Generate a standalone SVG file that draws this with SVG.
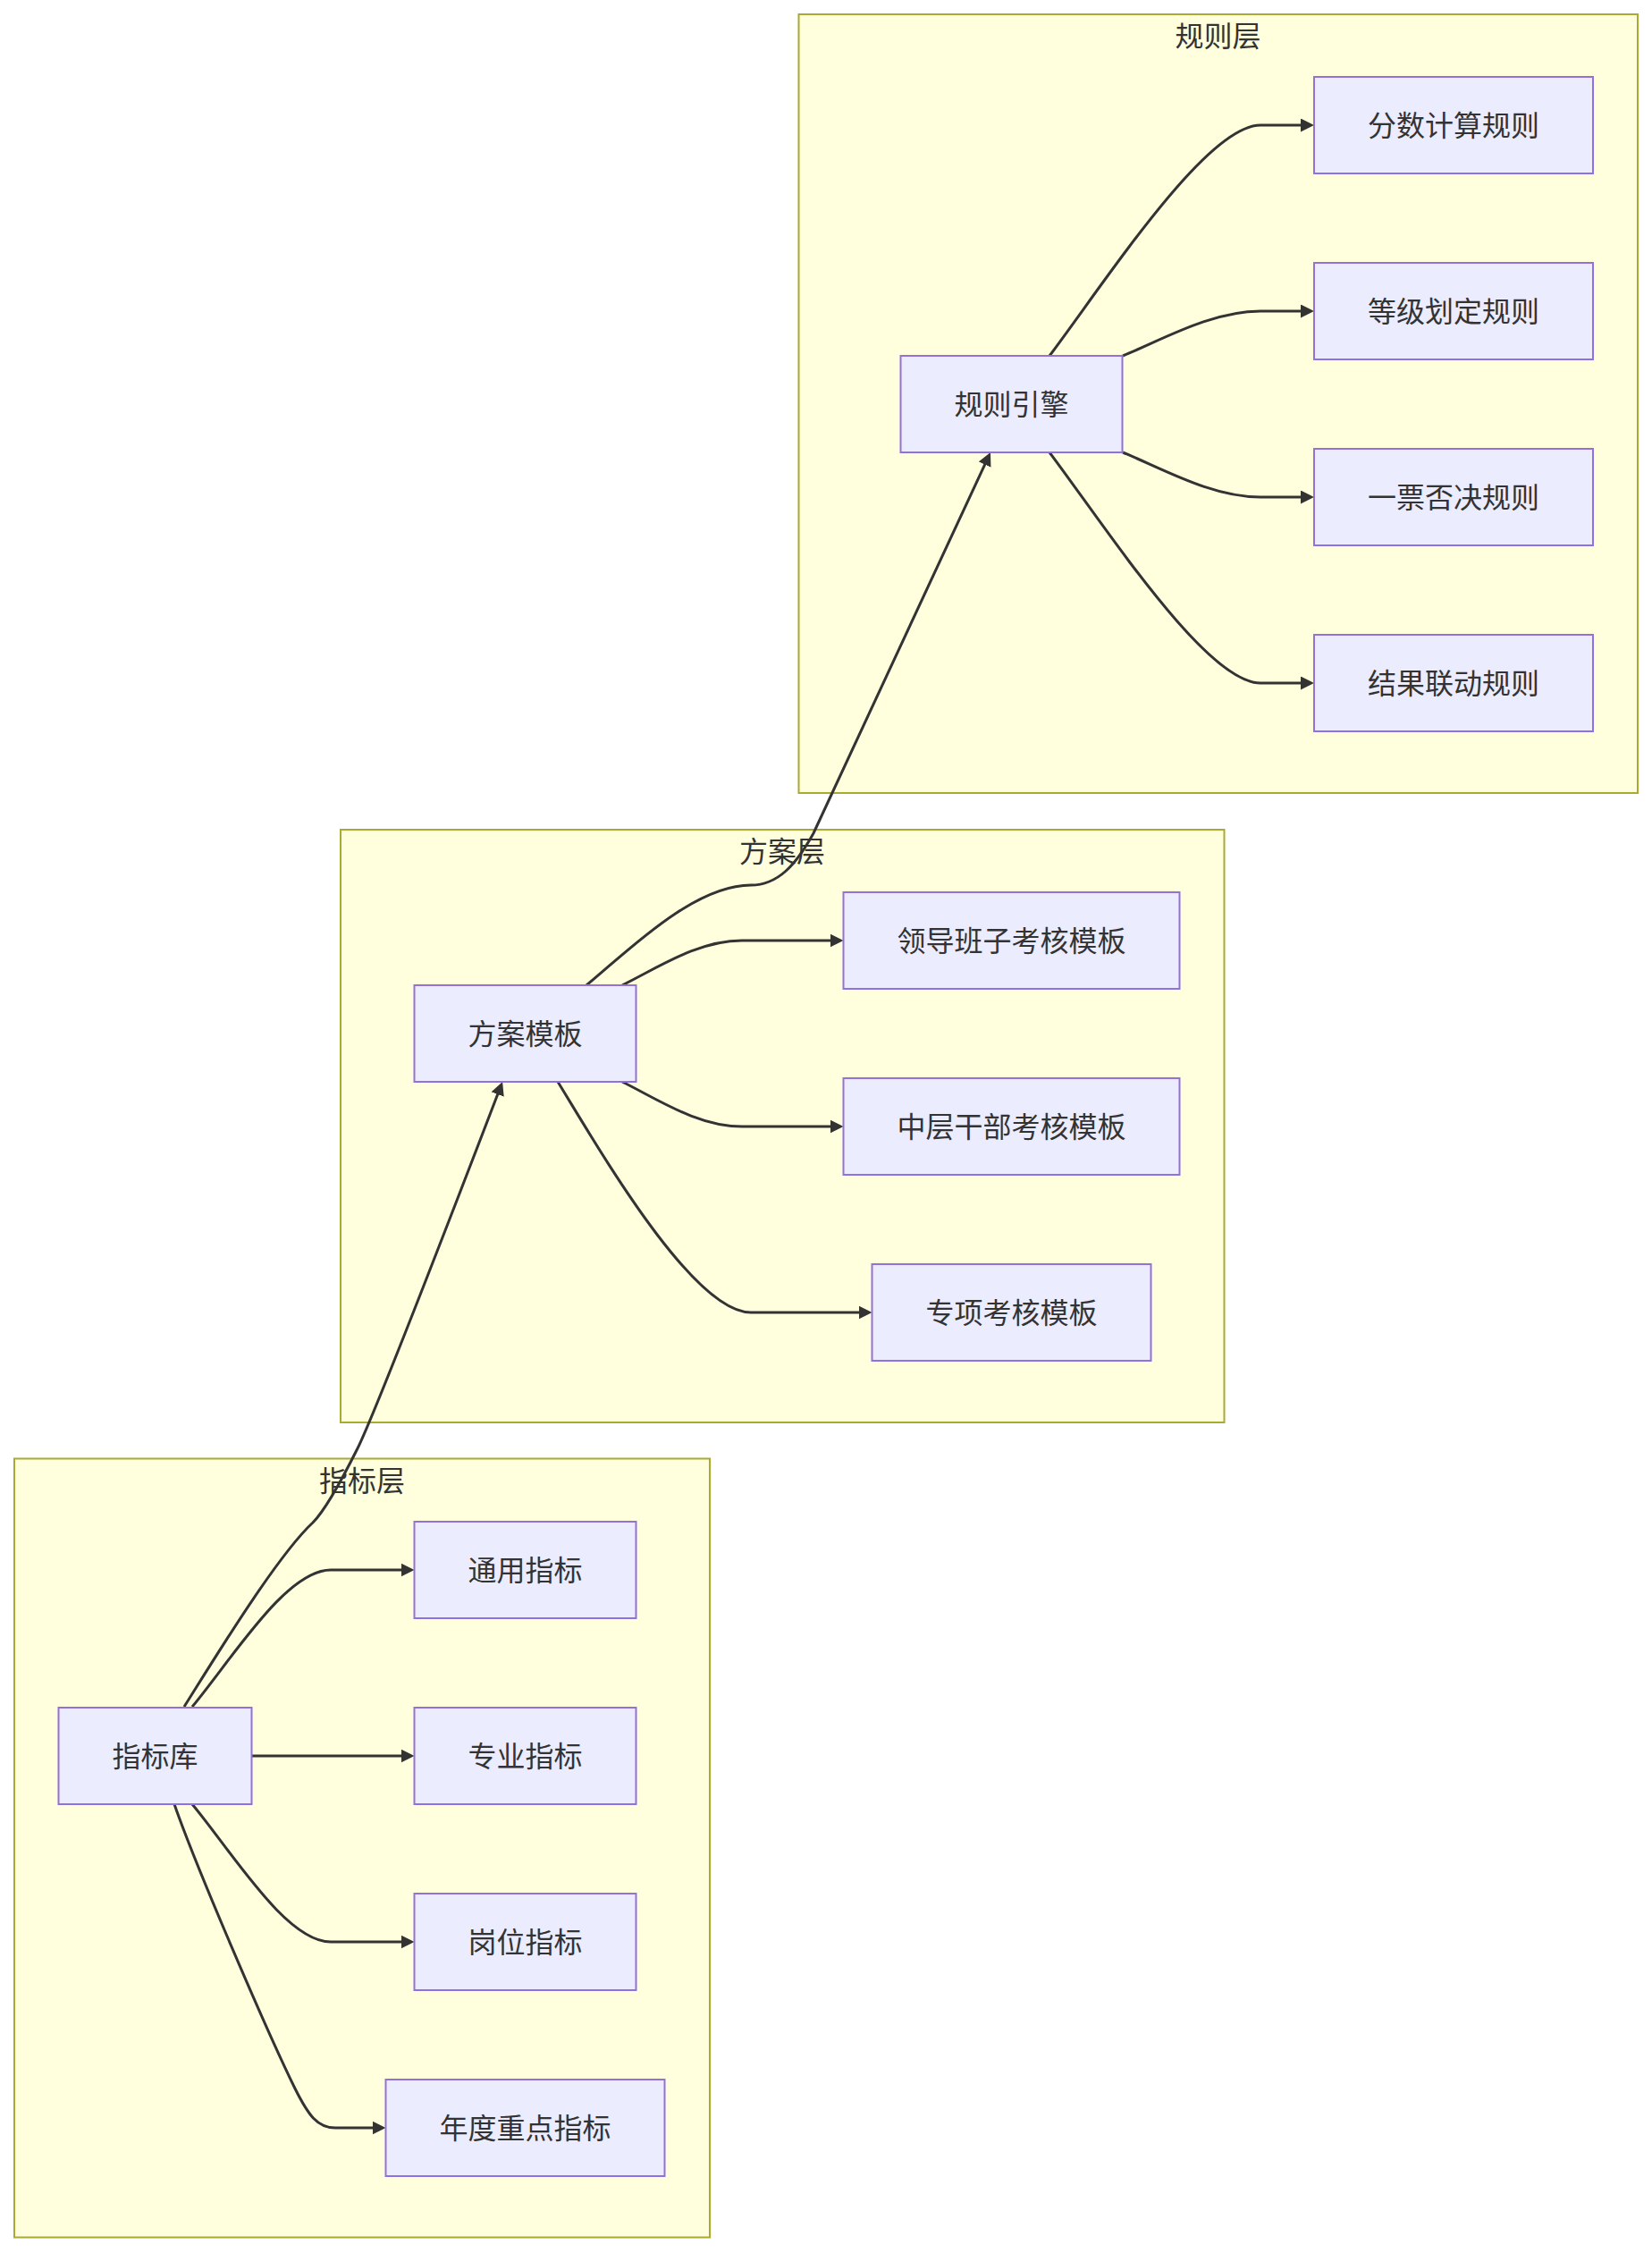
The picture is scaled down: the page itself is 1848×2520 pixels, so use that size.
<svg xmlns="http://www.w3.org/2000/svg" width="1848" height="2520" viewBox="0 0 1848 2520">
<style>
.cluster rect{fill:#ffffde;stroke:#aaaa33;stroke-width:2}
.node rect{fill:#ECECFF;stroke:#9370DB;stroke-width:2}
text{font-family:"Noto Sans CJK SC","Noto Sans",sans-serif;font-size:32px;fill:#333333;text-anchor:middle;dominant-baseline:central}
.edges path{fill:none;stroke:#333333;stroke-width:3}
</style>
<defs>
<marker id="arrow" viewBox="0 0 10 10" refX="5" refY="5" markerUnits="userSpaceOnUse" markerWidth="15" markerHeight="15" orient="auto">
<path d="M0,0 L10,5 L0,10 z" fill="#333333"/>
</marker>
</defs>
<rect width="1848" height="2520" fill="#ffffff"/>
<g id="clusters">
<g id="cluster-rule" class="cluster"><rect x="893.5" y="16" width="938.5" height="871"/><text x="1362.5" y="38">规则层</text></g>
<g id="cluster-plan" class="cluster"><rect x="381" y="928" width="988.5" height="663"/><text x="875" y="950">方案层</text></g>
<g id="cluster-index" class="cluster"><rect x="16" y="1631.5" width="778" height="871"/><text x="405" y="1654">指标层</text></g>
</g>
<g id="connectors" class="edges">
<path d="M1174,398 C1240,310 1350,140 1410,140 L1462.5,140" marker-end="url(#arrow)"/>
<path d="M1256,398 C1300,380 1355,348 1410,348 L1462.5,348" marker-end="url(#arrow)"/>
<path d="M1256,506 C1300,524 1355,556 1410,556 L1462.5,556" marker-end="url(#arrow)"/>
<path d="M1174,506 C1240,594 1350,764 1410,764 L1462.5,764" marker-end="url(#arrow)"/>
<path d="M656,1102 C700,1066 775,990 840,990 C870,990 890,968 910,932 L1104.8,512.8" marker-end="url(#arrow)"/>
<path d="M696,1102 C735,1083 780,1052 830,1052 L936,1052" marker-end="url(#arrow)"/>
<path d="M696,1210 C735,1229 780,1260 830,1260 L936,1260" marker-end="url(#arrow)"/>
<path d="M624,1210 C670,1285 775,1468 840,1468 L968,1468" marker-end="url(#arrow)"/>
<path d="M206,1909 C240,1855 310,1740 350,1703 C365,1688 385,1650 400,1620 C420,1580 495,1385 559.4,1217" marker-end="url(#arrow)"/>
<path d="M215,1909 C260,1855 320,1756 370,1756 L456,1756" marker-end="url(#arrow)"/>
<path d="M281.5,1964 L456,1964" marker-end="url(#arrow)"/>
<path d="M215,2018 C260,2072 320,2172 370,2172 L456,2172" marker-end="url(#arrow)"/>
<path d="M195,2018 C220,2090 300,2275 330,2336 C345,2366 355,2380 375,2380 L424,2380" marker-end="url(#arrow)"/>
</g>
<g id="nodes">
<g id="node-engine" class="node"><rect x="1007.5" y="398" width="248" height="108"/><text x="1131.5" y="450">规则引擎</text></g>
<g id="node-score" class="node"><rect x="1470" y="86" width="312" height="108"/><text x="1626" y="138">分数计算规则</text></g>
<g id="node-grade" class="node"><rect x="1470" y="294" width="312" height="108"/><text x="1626" y="346">等级划定规则</text></g>
<g id="node-veto" class="node"><rect x="1470" y="502" width="312" height="108"/><text x="1626" y="554">一票否决规则</text></g>
<g id="node-link" class="node"><rect x="1470" y="710" width="312" height="108"/><text x="1626" y="762">结果联动规则</text></g>
<g id="node-template" class="node"><rect x="463.5" y="1102" width="248" height="108"/><text x="587.5" y="1154">方案模板</text></g>
<g id="node-leader" class="node"><rect x="943.5" y="998" width="376" height="108"/><text x="1131.5" y="1050">领导班子考核模板</text></g>
<g id="node-middle" class="node"><rect x="943.5" y="1206" width="376" height="108"/><text x="1131.5" y="1258">中层干部考核模板</text></g>
<g id="node-special" class="node"><rect x="975.5" y="1414" width="312" height="108"/><text x="1131.5" y="1466">专项考核模板</text></g>
<g id="node-lib" class="node"><rect x="65.5" y="1910" width="216" height="108"/><text x="173.5" y="1962">指标库</text></g>
<g id="node-general" class="node"><rect x="463.5" y="1702" width="248" height="108"/><text x="587.5" y="1754">通用指标</text></g>
<g id="node-major" class="node"><rect x="463.5" y="1910" width="248" height="108"/><text x="587.5" y="1962">专业指标</text></g>
<g id="node-post" class="node"><rect x="463.5" y="2118" width="248" height="108"/><text x="587.5" y="2170">岗位指标</text></g>
<g id="node-annual" class="node"><rect x="431.5" y="2326" width="312" height="108"/><text x="587.5" y="2378">年度重点指标</text></g>
</g>
</svg>
